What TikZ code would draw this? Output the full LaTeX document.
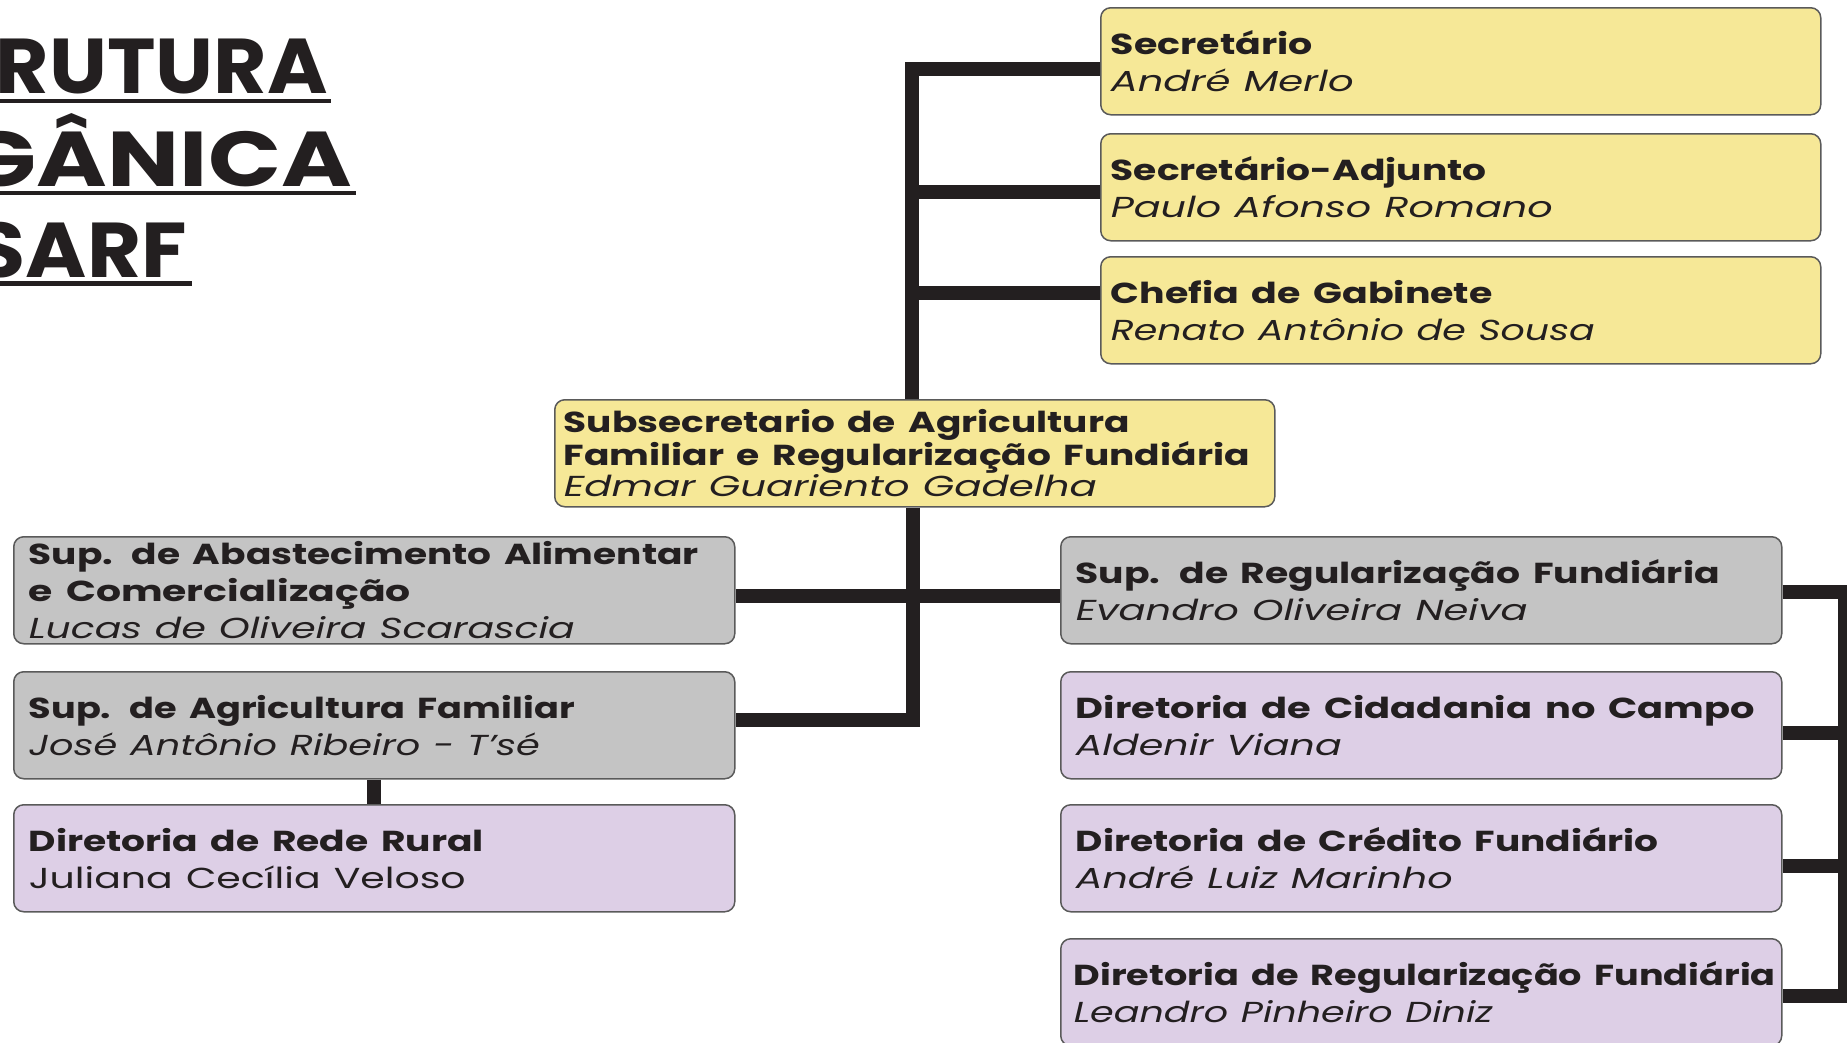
\documentclass[tikz,border=0pt]{standalone}
\usepackage{fontspec}
\usepackage{graphicx}
\setmainfont{Poppins}
\definecolor{yel}{HTML}{F6E897}
\definecolor{gry}{HTML}{C4C4C4}
\definecolor{lav}{HTML}{DDCFE6}
\definecolor{ink}{HTML}{231F20}
\definecolor{rim}{HTML}{5A5A5A}
\newcommand\hd[2]{\resizebox{#1bp}{\height}{\bfseries #2}}
\newcommand\nm[2]{\resizebox{#1bp}{\height}{\itshape #2}}
\newcommand\rg[2]{\resizebox{#1bp}{\height}{#2}}
\tikzset{
  box/.style={draw=rim, line width=1.5bp, rounded corners=10bp, anchor=north west,
    inner xsep=15bp, inner ysep=0bp, text width=691bp, minimum height=107bp,
    align=left, text=ink, font=\fontsize{29}{37}\selectfont},
  topbox/.style={box, fill=yel, inner xsep=10bp, text width=700bp},
  link/.style={draw=ink, line width=14bp},
  ttl/.style={anchor=base east, text=ink, inner sep=0pt, font=\fontsize{78}{90}\selectfont\bfseries},
  uline/.style={draw=ink, line width=4.5bp}
}
\begin{document}
\begin{tikzpicture}[x=1bp,y=-1bp]
\useasboundingbox (0,0) rectangle (1847,1042);
\clip (0,0) rectangle (1847,1042);
% title
\node[ttl] (t1) at (328,93) {\resizebox{332bp}{\height}{RUTURA}};
\node[ttl] (t2) at (352,186) {\resizebox{388bp}{\height}{GÂNICA}};
\node[ttl] (t3) at (187,277) {\resizebox{212bp}{\height}{SARF}};
\draw[uline] (0,101) -- (331,101);
\draw[uline] (0,193) -- (356,193);
\draw[uline] (0,283.5) -- (192,283.5);
% boxes
\coordinate (top) at (912,68.5);
\coordinate (bot) at (913,720);
\coordinate (rb) at (1845,592);
\node[topbox] (sec) at (1100,7) {\hd{202}{Secretário}\\\nm{243}{André Merlo}};
\node[topbox] (adj) at (1100,133) {\hd{376}{Secretário-Adjunto}\\\nm{442}{Paulo Afonso Romano}};
\node[topbox] (chef) at (1100,256) {\hd{382}{Chefia de Gabinete}\\\nm{484}{Renato Antônio de Sousa}};
\node[topbox, inner xsep=9bp, text width=702bp, font=\fontsize{29}{31}\selectfont] (sub) at (554,399) {\hd{566}{Subsecretario de Agricultura}\\\hd{686}{Familiar e Regularização Fundiária}\\\nm{533}{Edmar Guariento Gadelha}};
\node[box, fill=gry] (abas) at (13,536) {\hd{670}{Sup. de Abastecimento Alimentar}\\\hd{382}{e Comercialização}\\\nm{546}{Lucas de Oliveira Scarascia}};
\node[box, fill=gry] (agf) at (13,671) {\hd{546}{Sup. de Agricultura Familiar}\\\nm{511}{José Antônio Ribeiro - T'sé}};
\node[box, fill=lav] (rede) at (13,804) {\hd{455}{Diretoria de Rede Rural}\\\rg{437}{Juliana Cecília Veloso}};
\node[box, fill=gry] (sreg) at (1060,536) {\hd{644}{Sup. de Regularização Fundiária}\\\nm{452}{Evandro Oliveira Neiva}};
\node[box, fill=lav] (cid) at (1060,671) {\hd{679}{Diretoria de Cidadania no Campo}\\\nm{266}{Aldenir Viana}};
\node[box, fill=lav] (cred) at (1060,804) {\hd{583}{Diretoria de Crédito Fundiário}\\\nm{377}{André Luiz Marinho}};
\node[box, fill=lav, inner xsep=13bp, text width=695bp] (dreg) at (1060,938) {\hd{702}{Diretoria de Regularização Fundiária}\\\nm{419}{Leandro Pinheiro Diniz}};
% connectors
\draw[link] (sec.west |- top) -- (top) -- (top |- sub.north);
\draw[link] (adj.west |- 0,191.5) -- (top |- 0,191.5);
\draw[link] (chef.west |- 0,292.5) -- (top |- 0,292.5);
\draw[link, line join=miter] (bot |- sub.south) -- (bot) -- (agf.east |- bot);
\draw[link] (abas.east |- 0,596) -- (sreg.west |- 0,596);
\draw[link] (agf.south) -- (rede.north);
\draw[link, line join=miter] (sreg.east |- rb) -- (rb) -- (rb |- 0,995.5) -- (dreg.east |- 0,995.5);
\draw[link] (cid.east |- 0,732.5) -- (rb |- 0,732.5);
\draw[link] (cred.east |- 0,866) -- (rb |- 0,866);
\end{tikzpicture}
\end{document}
